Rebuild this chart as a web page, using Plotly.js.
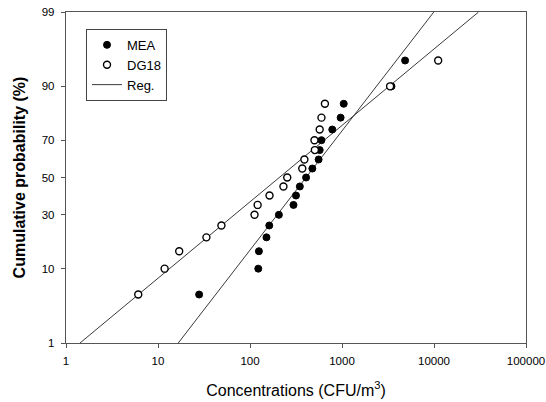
<!DOCTYPE html>
<html>
<head>
<meta charset="utf-8">
<script src="https://cdn.plot.ly/plotly-3.0.1.min.js"></script>
<style>html,body{margin:0;padding:0;background:#fff;}#chart{width:546px;height:402px;}</style>
</head>
<body>
<div id="chart"></div>
<script>
// Cumulative probabilities (%) of plotted points
var probs = [5,10,15,20,25,30,35,40,45,50,55,60,65,70,75,80,85,90,95];
// MEA concentrations (CFU/m3)
var meaX = [28,123,125,151,162,206,297,316,348,407,476,557,572,598,784,966,1044,3450,4850];
// DG18 concentrations (CFU/m3)
var dgX = [6.1,11.8,17,33.6,48.9,112,121,163,231,254,370,390,507,502,572,598,652,3334,11100];
// Regression lines (end points)
var regMeaX = [16.6, 9950];
var regMeaP = [1, 99];
var regDgX = [1.42, 30500];
var regDgP = [1, 99];
// Axis ticks
var yTickP = [1,10,30,50,70,90,99];
var yTickText = ['1','10','30','50','70','90','99'];
var xTickVals = [1,10,100,1000,10000,100000];
var xTickText = ['1','10','100','1000','10000','100000'];

// inverse standard normal CDF (probability scale)
function probit(p){
  var a=[-3.969683028665376e+01,2.209460984245205e+02,-2.759285104469687e+02,1.383577518672690e+02,-3.066479806614716e+01,2.506628277459239e+00];
  var b=[-5.447609879822406e+01,1.615858368580409e+02,-1.556989798598866e+02,6.680131188771972e+01,-1.328068155288572e+01];
  var c=[-7.784894002430293e-03,-3.223964580411365e-01,-2.400758277161838e+00,-2.549732539343734e+00,4.374664141464968e+00,2.938163982698783e+00];
  var d=[7.784695709041462e-03,3.224671290700398e-01,2.445134137142996e+00,3.754408661907416e+00];
  var pl=0.02425, q, r;
  if(p<pl){q=Math.sqrt(-2*Math.log(p));return (((((c[0]*q+c[1])*q+c[2])*q+c[3])*q+c[4])*q+c[5])/((((d[0]*q+d[1])*q+d[2])*q+d[3])*q+1);}
  if(p<=1-pl){q=p-0.5;r=q*q;return (((((a[0]*r+a[1])*r+a[2])*r+a[3])*r+a[4])*r+a[5])*q/(((((b[0]*r+b[1])*r+b[2])*r+b[3])*r+b[4])*r+1);}
  q=Math.sqrt(-2*Math.log(1-p));return -(((((c[0]*q+c[1])*q+c[2])*q+c[3])*q+c[4])*q+c[5])/((((d[0]*q+d[1])*q+d[2])*q+d[3])*q+1);
}
function toZ(arr){return arr.map(function(v){return probit(v/100);});}

var fam = 'Liberation Sans, Arial, sans-serif';
var lineStyle = {color:'#3a3a3a', width:1};

var traces = [
  {x:regMeaX, y:toZ(regMeaP), mode:'lines', line:lineStyle, name:'Reg.', showlegend:true, legendrank:3, hoverinfo:'skip', cliponaxis:true},
  {x:regDgX, y:toZ(regDgP), mode:'lines', line:lineStyle, name:'Reg.', showlegend:false, hoverinfo:'skip', cliponaxis:true},
  {x:meaX, y:toZ(probs), mode:'markers', name:'MEA', legendrank:1,
   marker:{symbol:'circle', size:7, color:'#000', line:{color:'#000', width:1}}},
  {x:dgX, y:toZ(probs), mode:'markers', name:'DG18', legendrank:2,
   marker:{symbol:'circle', size:7, color:'#fff', line:{color:'#000', width:1.4}}}
];

var zr = probit(0.99);
var layout = {
  width:546, height:402,
  margin:{l:66, r:20, t:12, b:59, pad:0},
  paper_bgcolor:'#fff', plot_bgcolor:'#fff',
  font:{family:fam, color:'#000', size:11.5},
  showlegend:true,
  legend:{x:0.0435, y:0.949, xanchor:'left', yanchor:'top', bgcolor:'#fff',
          bordercolor:'#444', borderwidth:1, font:{size:13, family:fam, color:'#000'},
          tracegroupgap:0, itemwidth:30},
  xaxis:{type:'log', range:[0,5], tickvals:xTickVals, ticktext:xTickText,
         showgrid:false, zeroline:false, showline:true, mirror:true,
         linecolor:'#555', linewidth:1.2, ticks:'outside', ticklen:4, tickcolor:'#555',
         tickfont:{size:11.5, family:fam, color:'#000'}, ticklabelstandoff:3,
         title:{text:'Concentrations (CFU/m<sup>3</sup>)', font:{size:16, family:fam, color:'#000'}, standoff:18}},
  yaxis:{range:[-zr, zr], tickvals:toZ(yTickP), ticktext:yTickText,
         showgrid:false, zeroline:false, showline:true, mirror:true,
         linecolor:'#555', linewidth:1.2, ticks:'outside', ticklen:4, tickcolor:'#555',
         tickfont:{size:11.5, family:fam, color:'#000'}, ticklabelstandoff:4,
         title:{text:'Cumulative probability (%)', font:{size:16, family:fam, color:'#000', weight:'bold'}, standoff:12}}
};

Plotly.newPlot('chart', traces, layout, {staticPlot:true, displayModeBar:false});
</script>
</body>
</html>
